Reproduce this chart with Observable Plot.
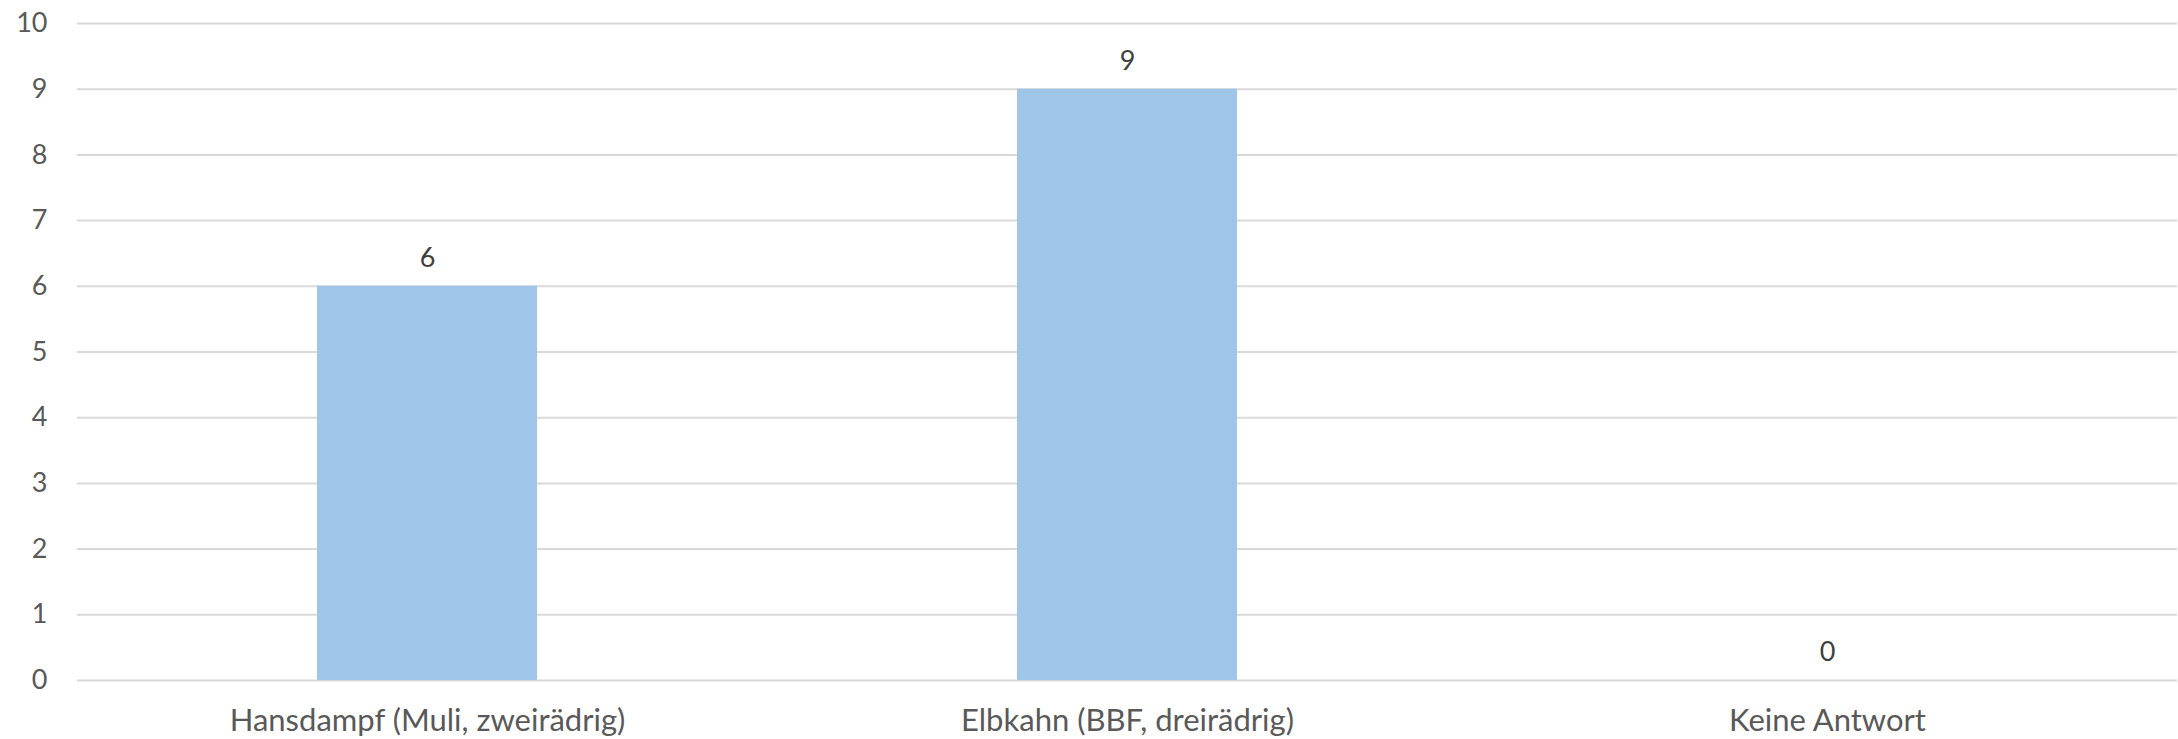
<!DOCTYPE html>
<html>
<head>
<meta charset="utf-8">
<script src="https://cdn.jsdelivr.net/npm/d3@7"></script>
<script src="https://cdn.jsdelivr.net/npm/@observablehq/plot@0.6"></script>
<style>
  html, body { margin: 0; padding: 0; background: #fff; }
  #chart svg { display: block; }
</style>
</head>
<body>
<div id="chart"></div>
<script>
const categories = ["Hansdampf (Muli, zweirädrig)", "Elbkahn (BBF, dreirädrig)", "Keine Antwort"];
const values = [6, 9, 0];
const yTicks = [0, 1, 2, 3, 4, 5, 6, 7, 8, 9, 10];

const data = categories.map((c, i) => ({category: c, value: values[i]}));
const font = "Lato, 'Open Sans', sans-serif";

const chart = Plot.plot({
  width: 2178,
  height: 739,
  marginLeft: 77,
  marginRight: 1,
  marginTop: 23,
  marginBottom: 59,
  style: {fontFamily: font, fontSize: "27px", background: "#fff"},
  x: {domain: categories, paddingInner: 0.686, paddingOuter: 0.343, label: null},
  y: {domain: [0, 10], label: null},
  marks: [
    Plot.ruleY(yTicks, {stroke: "#d9d9d9", strokeWidth: 2}),
    Plot.barY(data, {x: "category", y: "value", fill: "#9fc5e8"}),
    Plot.text(data, {x: "category", y: "value", text: d => String(d.value), dy: -28, fill: "#404040", fontSize: 27}),
    Plot.axisY({ticks: yTicks, tickSize: 0, tickPadding: 30, fill: "#595959", fontSize: 27, tickFormat: d => String(d), label: null}),
    Plot.axisX({tickSize: 0, tickPadding: 28, fill: "#595959", fontSize: 31, label: null})
  ]
});
document.getElementById("chart").appendChild(chart);
</script>
</body>
</html>
